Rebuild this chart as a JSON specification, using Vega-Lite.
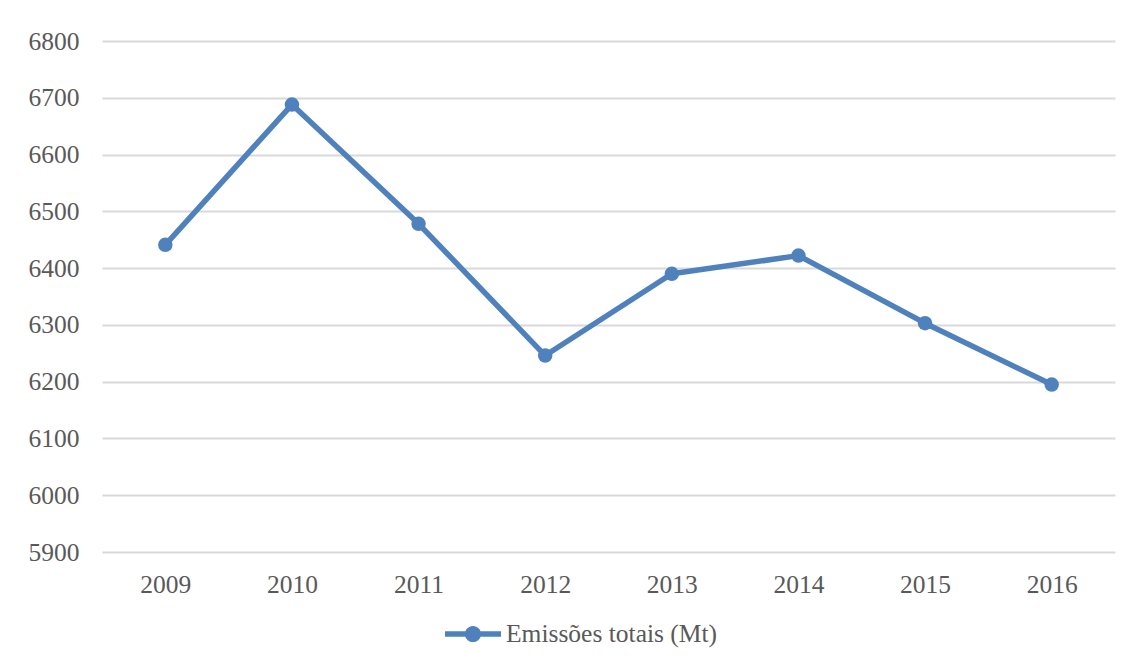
{
  "$schema": "https://vega.github.io/schema/vega-lite/v6.json",
  "autosize": {"type": "none"},
  "width": 1013,
  "height": 511,
  "padding": {"left": 102, "top": 41, "right": 16, "bottom": 114},
  "background": "#ffffff",
  "config": {
    "view": {"stroke": null},
    "font": "Liberation Serif",
    "axis": {
      "labelFont": "Liberation Serif",
      "labelFontSize": 25.5,
      "labelColor": "#595959",
      "domain": false,
      "ticks": false,
      "gridColor": "#d9d9d9",
      "gridWidth": 2
    },
    "legend": {
      "labelFont": "Liberation Serif",
      "labelFontSize": 25.5,
      "labelColor": "#595959",
      "labelLimit": 0,
      "padding": 0
    }
  },
  "data": {
    "values": [
      {"ano": "2009", "emissoes": 6441},
      {"ano": "2010", "emissoes": 6688},
      {"ano": "2011", "emissoes": 6478},
      {"ano": "2012", "emissoes": 6246},
      {"ano": "2013", "emissoes": 6390},
      {"ano": "2014", "emissoes": 6422},
      {"ano": "2015", "emissoes": 6303},
      {"ano": "2016", "emissoes": 6195}
    ]
  },
  "mark": {
    "type": "line",
    "strokeWidth": 5.5,
    "strokeCap": "round",
    "strokeJoin": "round",
    "point": {"filled": true, "size": 210, "opacity": 1}
  },
  "encoding": {
    "x": {
      "field": "ano",
      "type": "ordinal",
      "scale": {"type": "point", "padding": 0.5},
      "axis": {"title": null, "labelAngle": 0, "labelPadding": 20, "grid": false}
    },
    "y": {
      "field": "emissoes",
      "type": "quantitative",
      "scale": {"domain": [5900, 6800], "nice": false, "zero": false},
      "axis": {"title": null, "tickCount": 9, "format": "d", "labelPadding": 23}
    },
    "color": {
      "datum": "Emissões totais (Mt)",
      "type": "nominal",
      "scale": {"range": ["#4f81bd"]},
      "legend": {
        "title": null,
        "orient": "none",
        "legendX": 343,
        "legendY": 565,
        "symbolType": "M-1,-0.1L1,-0.1L1,0.1L-1,0.1Z M-0.29,0A0.29,0.29 0 1,1 0.29,0A0.29,0.29 0 1,1 -0.29,0Z",
        "symbolSize": 3136,
        "symbolStrokeWidth": 0,
        "symbolFillColor": "#4f81bd",
        "symbolOpacity": 1,
        "labelOffset": 5
      }
    }
  }
}
